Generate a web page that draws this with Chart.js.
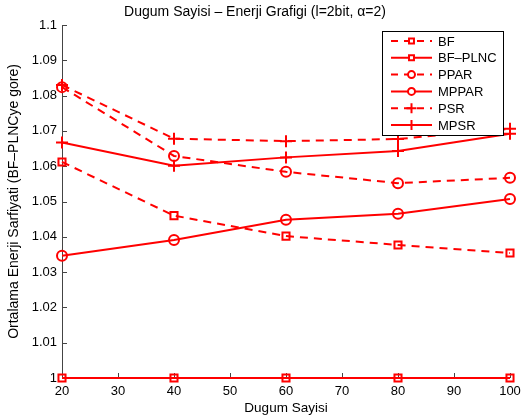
<!DOCTYPE html>
<html>
<head>
<meta charset="utf-8">
<script src="https://cdn.jsdelivr.net/npm/chart.js@4.4.1/dist/chart.umd.min.js"></script>
<style>
  body { margin: 0; background: #fff; }
  #wrap { width: 521px; height: 420px; }
</style>
</head>
<body>
<div id="wrap"><canvas id="c" width="521" height="420"></canvas></div>
<script>
// node counts on the x axis
const nodes = [20, 40, 60, 80, 100];

// energy ratio relative to BF-PLNC
const bf     = [1.0612, 1.0460, 1.0402, 1.0377, 1.0354];
const bfPlnc = [1.0, 1.0, 1.0, 1.0, 1.0];
const ppar   = [1.0824, 1.0629, 1.0584, 1.0552, 1.0567];
const mppar  = [1.0346, 1.0391, 1.0448, 1.0465, 1.0507];
const psr    = [1.0830, 1.0678, 1.0671, 1.0677, 1.0706];
const mpsr   = [1.0667, 1.0601, 1.0625, 1.0643, 1.0692];

const seriesNames = ["BF", "BF\u2013PLNC", "PPAR", "MPPAR", "PSR", "MPSR"];

const RED = "#ff0000";
const DASH = [8, 6];
const FONT = "'Liberation Sans', Arial, sans-serif";

function mkSet(label, vals, dashed, marker, radius) {
  return {
    label: label,
    data: nodes.map((n, i) => ({ x: n, y: vals[i] })),
    borderColor: RED,
    borderWidth: 2,
    borderDash: dashed ? DASH : [],
    pointStyle: marker,
    pointRadius: radius,
    pointBorderWidth: 2,
    pointBorderColor: RED,
    pointBackgroundColor: "rgba(0,0,0,0)",
    pointHoverRadius: radius,
    tension: 0,
    fill: false,
    clip: false
  };
}

const datasets = [
  mkSet(seriesNames[0], bf, true, "rect", 5),
  mkSet(seriesNames[1], bfPlnc, false, "rect", 5),
  mkSet(seriesNames[2], ppar, true, "circle", 5),
  mkSet(seriesNames[3], mppar, false, "circle", 5),
  mkSet(seriesNames[4], psr, true, "cross", 6),
  mkSet(seriesNames[5], mpsr, false, "cross", 6)
];

// matlab style axes: left + bottom lines with inward ticks
const axesPlugin = {
  id: "matlabAxes",
  beforeDatasetsDraw(chart) {
    const ctx = chart.ctx, a = chart.chartArea;
    const xs = chart.scales.x, ys = chart.scales.y;
    ctx.save();
    ctx.strokeStyle = "#444";
    ctx.lineWidth = 1;
    ctx.beginPath();
    ctx.moveTo(a.left + 0.5, a.top);
    ctx.lineTo(a.left + 0.5, a.bottom + 0.5);
    ctx.lineTo(a.right, a.bottom + 0.5);
    ys.ticks.forEach(t => {
      const y = Math.round(ys.getPixelForValue(t.value)) + 0.5;
      ctx.moveTo(a.left, y);
      ctx.lineTo(a.left + 5, y);
    });
    xs.ticks.forEach(t => {
      const x = Math.round(xs.getPixelForValue(t.value)) + 0.5;
      ctx.moveTo(x, a.bottom);
      ctx.lineTo(x, a.bottom - 5);
    });
    ctx.stroke();
    ctx.restore();
  }
};

// legend box drawn like matlab's (line sample + marker)
const legendPlugin = {
  id: "matlabLegend",
  afterDraw(chart) {
    const ctx = chart.ctx;
    const bx = 382, by = 31, bw = 121, bh = 104;
    ctx.save();
    ctx.fillStyle = "#fff";
    ctx.fillRect(bx, by, bw, bh);
    ctx.strokeStyle = "#000";
    ctx.lineWidth = 1;
    ctx.strokeRect(bx + 0.5, by + 0.5, bw, bh);
    ctx.font = "13px " + FONT;
    ctx.textBaseline = "middle";
    chart.data.datasets.forEach((ds, i) => {
      const y = 41 + i * 16.8;
      ctx.strokeStyle = ds.borderColor;
      ctx.lineWidth = 2;
      ctx.setLineDash(ds.borderDash.length ? [7, 6] : []);
      ctx.beginPath();
      ctx.moveTo(391, y);
      ctx.lineTo(432, y);
      ctx.stroke();
      ctx.setLineDash([]);
      ctx.fillStyle = "#fff";
      ctx.strokeStyle = RED;
      Chart.helpers.drawPoint(ctx, {
        pointStyle: ds.pointStyle,
        radius: ds.pointStyle === "cross" ? 5 : 3.5,
        borderWidth: 2
      }, 411.5, y);
      ctx.fillStyle = "#000";
      ctx.fillText(ds.label, 438, y + 1);
    });
    ctx.restore();
  }
};

new Chart(document.getElementById("c"), {
  type: "line",
  data: { datasets: datasets },
  plugins: [axesPlugin, legendPlugin],
  options: {
    responsive: false,
    animation: false,
    devicePixelRatio: 1,
    layout: { padding: { top: 2.2, right: 11, bottom: 0, left: 0 } },
    plugins: {
      legend: { display: false },
      tooltip: { enabled: false },
      title: {
        display: true,
        text: "Dugum Sayisi \u2013 Enerji Grafigi (l=2bit, \u03b1=2)",
        color: "#000",
        font: { family: FONT, size: 14, weight: "normal" },
        padding: { top: 2, bottom: 4 }
      }
    },
    scales: {
      x: {
        type: "linear",
        min: 20,
        max: 100,
        grid: { display: false, drawTicks: false },
        border: { display: false },
        ticks: {
          stepSize: 10,
          color: "#000",
          font: { family: FONT, size: 13 },
          padding: 6,
          maxRotation: 0
        },
        title: {
          display: true,
          text: "Dugum Sayisi",
          color: "#000",
          font: { family: FONT, size: 13.5 },
          padding: { top: 0, bottom: 4 }
        },
        afterFit(s) {
          s.height = 42;
          s.paddingLeft = 0;
          s.paddingRight = 0;
        }
      },
      y: {
        min: 1,
        max: 1.1,
        grid: { display: false, drawTicks: false },
        border: { display: false },
        ticks: {
          stepSize: 0.01,
          color: "#000",
          font: { family: FONT, size: 13 },
          padding: 5,
          callback: v => String(parseFloat(v.toFixed(2)))
        },
        title: {
          display: true,
          text: "Ortalama Enerji Sarfiyati (BF\u2013PLNCye gore)",
          color: "#000",
          font: { family: FONT, size: 14 },
          padding: { top: 6, bottom: 0 }
        },
        afterFit(s) {
          s.width = 62;
          s.paddingTop = 0;
          s.paddingBottom = 0;
        }
      }
    }
  }
});
</script>
</body>
</html>
